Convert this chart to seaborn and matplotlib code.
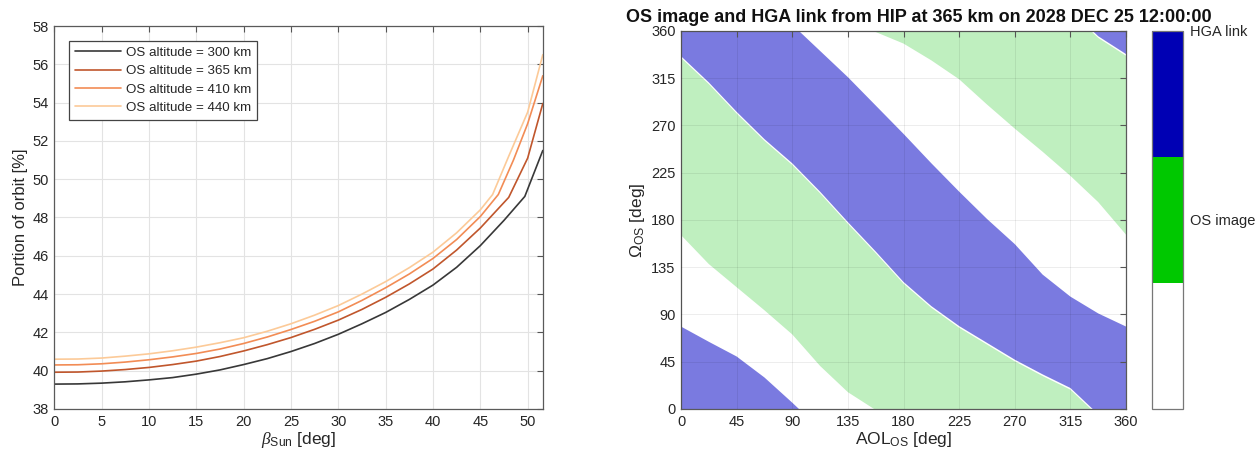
import numpy as np
import pandas as pd
import matplotlib
matplotlib.use("Agg")
import matplotlib.pyplot as plt
import seaborn as sns
from matplotlib.colors import ListedColormap, Normalize
from matplotlib.cm import ScalarMappable

# ---------------- data: left panel ----------------
beta_300 = [0, 2.5, 5, 7.5, 10, 12.5, 15, 17.5, 20, 22.5, 25, 27.5, 30, 32.5, 35, 37.5, 40, 42.5, 45, 47.5, 49.7, 51.6]
orbit_300 = [39.30, 39.31, 39.35, 39.42, 39.52, 39.64, 39.82, 40.04, 40.32, 40.63, 41.00, 41.42, 41.90, 42.45, 43.04, 43.72, 44.47, 45.40, 46.53, 47.85, 49.10, 51.50]

beta_365 = [0, 2.5, 5, 7.5, 10, 12.5, 15, 17.5, 20, 22.5, 25, 27.5, 30, 32.5, 35, 37.5, 40, 42.5, 45, 46.5, 48, 50, 51.6]
orbit_365 = [39.92, 39.93, 39.98, 40.06, 40.17, 40.32, 40.50, 40.74, 41.03, 41.36, 41.73, 42.16, 42.64, 43.20, 43.83, 44.53, 45.31, 46.30, 47.45, 48.25, 49.05, 51.10, 53.95]

beta_410 = [0, 2.5, 5, 7.5, 10, 12.5, 15, 17.5, 20, 22.5, 25, 27.5, 30, 32.5, 35, 37.5, 40, 42.5, 45, 46.9, 48.5, 50, 51.6]
orbit_410 = [40.30, 40.31, 40.36, 40.45, 40.57, 40.72, 40.90, 41.13, 41.42, 41.76, 42.15, 42.58, 43.07, 43.67, 44.33, 45.05, 45.86, 46.85, 48.05, 49.20, 51.00, 52.90, 55.40]

beta_440 = [0, 2.5, 5, 7.5, 10, 12.5, 15, 17.5, 20, 22.5, 25, 27.5, 30, 32.5, 35, 37.5, 40, 42.5, 45, 46.3, 48, 50, 51.6]
orbit_440 = [40.60, 40.61, 40.66, 40.76, 40.88, 41.04, 41.23, 41.46, 41.72, 42.06, 42.45, 42.90, 43.40, 44.00, 44.65, 45.38, 46.19, 47.20, 48.40, 49.20, 51.20, 53.50, 56.50]

altitude_labels = ["OS altitude = 300 km", "OS altitude = 365 km",
                   "OS altitude = 410 km", "OS altitude = 440 km"]
line_colors = ["#383838", "#c0562c", "#f28c55", "#fcca98"]

# ---------------- data: right panel (band edges, Omega [deg] vs AOL [deg]) ----------------
aol = [0, 22.5, 45, 67.5, 90, 112.5, 135, 157.5, 180, 202.5, 225, 247.5, 270, 292.5, 315, 337.5, 360]
# lower edge of the OS image (green) band
green_low = [165.6, 138, 116, 94, 71, 41, 16, -1, -12, -28, -46, -70, -93, -115, -138, -163, -194]
# lower edge of the HGA link (blue) band
blue_low = [336, 311, 283, 257, 234, 207, 178, 150, 121, 98, 79, 63, 47, 33, 20, -5, -22]
# upper edge of the HGA link (blue) band
blue_high = [438.5, 424, 410, 390, 366, 341, 316, 289, 262, 234, 207, 181, 157, 128, 107, 91, 78.5]
gap_deg = 1.6  # thin white seam between green and blue bands

cbar_labels = ["OS image", "HGA link"]
title_text = "OS image and HGA link from HIP at 365 km on 2028 DEC 25 12:00:00"

# ---------------- style ----------------
sns.set_style("white")
plt.rcParams["font.family"] = ["Liberation Sans", "DejaVu Sans"]
plt.rcParams["mathtext.fontset"] = "custom"
plt.rcParams["mathtext.rm"] = "Liberation Sans"
plt.rcParams["mathtext.it"] = "Liberation Serif:italic"
plt.rcParams["mathtext.bf"] = "Liberation Sans:bold"

txt_col = "#262626"
spine_col = "#5a5a5a"

fig = plt.figure(figsize=(12.6, 4.61), dpi=100)
ax1 = fig.add_axes([0.043, 0.1128, 0.3878, 0.8308])
ax2 = fig.add_axes([0.5405, 0.1128, 0.3532, 0.8200])
cax = fig.add_axes([0.9143, 0.1128, 0.0246, 0.8200])

# ---------------- left panel ----------------
frames = []
for b, o, lab in zip([beta_300, beta_365, beta_410, beta_440],
                     [orbit_300, orbit_365, orbit_410, orbit_440], altitude_labels):
    frames.append(pd.DataFrame({"beta": b, "portion": o, "alt": lab}))
df = pd.concat(frames, ignore_index=True)

sns.lineplot(data=df, x="beta", y="portion", hue="alt", hue_order=altitude_labels,
             palette=line_colors, linewidth=1.2, ax=ax1, legend=True, sort=False,
             estimator=None)
ax1.set_xlim(0, 51.6)
ax1.set_ylim(38, 58)
ax1.set_xticks(np.arange(0, 51, 5))
ax1.set_yticks(np.arange(38, 58.1, 2))
ax1.grid(True, color="#e3e3e3", linewidth=0.8)
ax1.set_axisbelow(True)
ax1.set_xlabel(r"$\beta_{\mathrm{Sun}}$ [deg]", fontsize=12.5, color=txt_col, labelpad=1)
ax1.set_ylabel("Portion of orbit [%]", fontsize=12, color=txt_col, labelpad=3)

old = ax1.get_legend()
handles = old.legend_handles
labels = [t.get_text() for t in old.get_texts()]
old.remove()
leg = ax1.legend(handles, labels, loc="upper left", bbox_to_anchor=(0.031, 0.962),
                 borderaxespad=0, fontsize=9.6, handlelength=3.4, handletextpad=0.4,
                 labelspacing=0.45, borderpad=0.45, fancybox=False, framealpha=1,
                 edgecolor="#444444")
leg.get_frame().set_linewidth(0.9)
for h in leg.legend_handles:
    h.set_linewidth(1.2)

# ---------------- right panel ----------------
blue_fill = "#7a7ae0"
green_fill = "#bfefbf"
aol_a = np.array(aol)
gl = np.array(green_low)
bl = np.array(blue_low)
bh = np.array(blue_high)
for k in (-1, 0, 1):
    off = 360 * k
    ax2.fill_between(aol_a, gl + off, bl + off - gap_deg, color=green_fill, linewidth=0, zorder=1)
    ax2.fill_between(aol_a, bl + off, bh + off, color=blue_fill, linewidth=0, zorder=1)
ax2.set_xlim(0, 360)
ax2.set_ylim(0, 360)
ax2.set_xticks(np.arange(0, 361, 45))
ax2.set_yticks(np.arange(0, 361, 45))
ax2.grid(True, color="#000000", alpha=0.07, linewidth=0.7)
ax2.set_axisbelow(False)
ax2.set_xlabel(r"AOL$_{\mathrm{OS}}$ [deg]", fontsize=12.5, color=txt_col, labelpad=1)
ax2.set_ylabel(r"$\Omega_{\mathrm{OS}}$ [deg]", fontsize=12.5, color=txt_col, labelpad=3)

for ax in (ax1, ax2):
    ax.tick_params(direction="in", length=4, width=0.8, top=True, right=True,
                   labelsize=10.5, colors=txt_col, pad=4)
    ax.tick_params(axis="both", color="#555555")
    for s in ax.spines.values():
        s.set_visible(True)
        s.set_color(spine_col)
        s.set_linewidth(0.9)

# ---------------- colorbar ----------------
cmap = ListedColormap(["#ffffff", "#00c800", "#0000b4"])
sm = ScalarMappable(norm=Normalize(vmin=0, vmax=2), cmap=cmap)
cb = fig.colorbar(sm, cax=cax, ticks=[1, 2])
cb.ax.set_yticklabels(cbar_labels)
cb.outline.set_edgecolor("#777777")
cb.outline.set_linewidth(0.9)
cax.tick_params(direction="in", length=3, width=0.7, labelsize=10.5, colors=txt_col, pad=5)

fig.text(0.729, 0.963, title_text, ha="center", va="center", fontsize=13,
         fontweight="bold", color="#111111")

fig.savefig("out.png", dpi=100, facecolor="white")
